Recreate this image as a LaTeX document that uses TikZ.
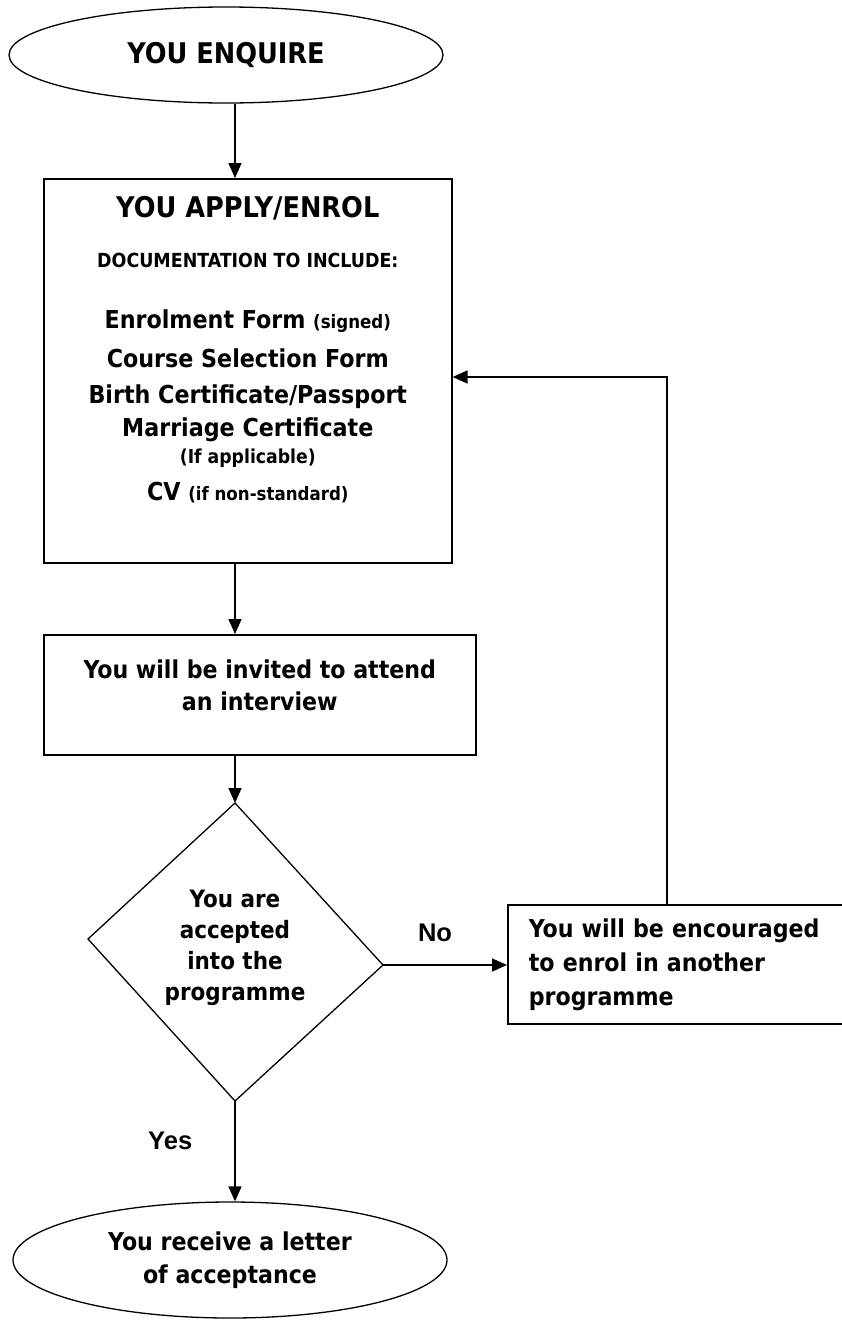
\documentclass[tikz,border=0pt]{standalone}
\usepackage{fontspec}
\IfFontExistsTF{DejaVu Sans Condensed}
  {\setmainfont{DejaVu Sans Condensed}}
  {\setmainfont{DejaVu Sans}[FakeStretch=0.9]}
\newfontfamily\labelfont{Liberation Sans}
\usetikzlibrary{shapes.geometric,positioning,arrows.meta}
\newcommand{\bodysize}[1]{\bfseries\fontsize{24.6}{#1}\selectfont}

\begin{document}
\begin{tikzpicture}[x=1pt,y=-1pt,->,>={Triangle[length=15pt,width=13pt]},line width=1.6pt,
  flowbox/.style={rectangle,draw=black,line width=1.6pt,inner sep=0pt},
  endpoint/.style={ellipse,draw=black,line width=1.3pt,inner sep=0pt,minimum width=434pt},
  lbl/.style={inner sep=0pt,font=\labelfont\bfseries\fontsize{25.5}{26}\selectfont}]

  \useasboundingbox (0,0) rectangle (841,1320);

  \node[endpoint,minimum height=96pt,font=\bfseries\fontsize{28.5}{30}\selectfont] (enq) at (226,55) {YOU ENQUIRE};
  \node[flowbox,anchor=north west,font=\bfseries] (apply) at (43,178) {\parbox[c][384pt][t]{408pt}{\centering
    \vspace*{18pt}
    \fontsize{28.5}{30}\selectfont YOU APPLY/ENROL\par
    \fontsize{19.4}{50}\selectfont DOCUMENTATION TO INCLUDE:\par
    \fontsize{24.7}{61}\selectfont Enrolment Form {\fontsize{18.5}{61}\selectfont (signed)}\par
    \fontsize{24.7}{39}\selectfont Course Selection Form\par
    \fontsize{24.7}{36}\selectfont Birth Certificate/Passport\par
    \fontsize{24.7}{33}\selectfont Marriage Certificate\par
    \fontsize{19.2}{27}\selectfont (If applicable)\par
    \fontsize{24.7}{37}\selectfont CV {\fontsize{18.5}{37}\selectfont (if non-standard)}\par}};
  \node[flowbox,anchor=north west,font=\bodysize{32}] (invite) at (43,634) {\parbox[c][120pt][t]{432pt}{\centering
    \vspace*{25pt}
    You will be invited to attend\\an interview\par}};

  % decision diamond
  \coordinate (dtop) at (235,803);
  \coordinate (dleft) at (88,939);
  \coordinate (dbot) at (235,1101);
  \coordinate (dright) at (383,965);
  \draw[-,line width=1.3pt] (dtop) -- (dleft) -- (dbot) -- (dright) -- cycle;
  \node[align=center,font=\bfseries\fontsize{23.9}{31}\selectfont] (decide) at (235,948) {You are\\accepted\\into the\\programme};

  \node[flowbox,anchor=west,minimum height=119pt,text width=330pt,inner xsep=21pt,align=left,font=\bodysize{34}] (other) at (507,964.5) {You will be encouraged\\to enrol in another\\programme};
  \node[endpoint,minimum height=116pt,align=center,font=\bodysize{33}] (accept) at (230,1260) {You receive a letter\\of acceptance};

  \draw (enq.south -| dtop) -- (apply.north -| dtop);
  \draw (apply.south -| dtop) -- (invite.north -| dtop);
  \draw (invite.south -| dtop) -- (dtop);
  \draw (dbot) -- node[lbl,left=42pt,yshift=10.5pt]{Yes} (accept.north -| dbot);
  \draw (dright) -- node[lbl,above=22pt,xshift=-10pt]{No} (other.west |- dright);

  % back to the application
  \coordinate (ret) at (667,377);
  \draw (other.north -| ret) -- (ret) -- (apply.east |- ret);
\end{tikzpicture}
\end{document}
